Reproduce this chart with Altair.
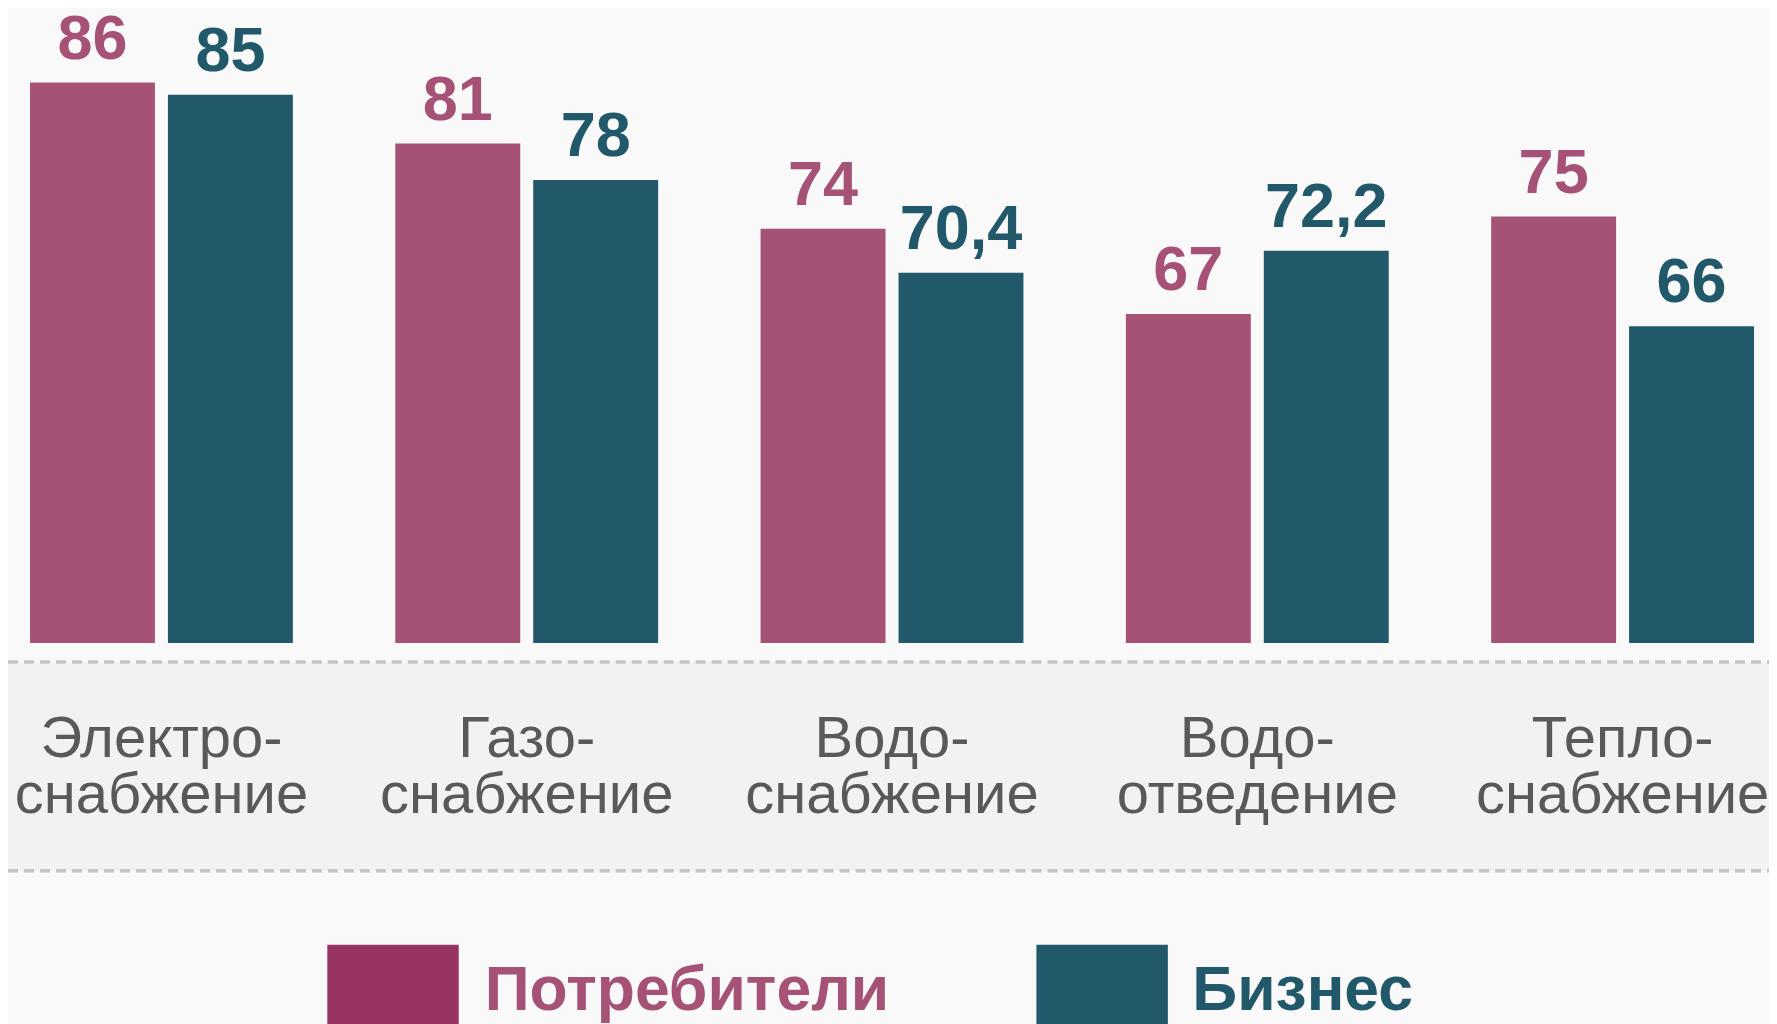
import altair as alt
import pandas as pd

# ---- data ----
categories = ["Электро-\nснабжение", "Газо-\nснабжение", "Водо-\nснабжение",
              "Водо-\nотведение", "Тепло-\nснабжение"]
series = ["Потребители", "Бизнес"]
consumers = [86, 81, 74, 67, 75]
business = [85, 78, 70.4, 72.2, 66]
baseline_value = 40

rows = []
for c, a, b in zip(categories, consumers, business):
    rows.append({"category": c, "series": series[0], "value": a})
    rows.append({"category": c, "series": series[1], "value": b})
df = pd.DataFrame(rows)
df["label"] = df["value"].map(lambda v: (f"{v:g}").replace(".", ","))

# ---- style ----
W, H = 1762, 1016
PX_PER_UNIT = 12.19
TOP_VALUE = 92.1
PINK, TEAL = "#a65277", "#22596a"
PINK_SW = "#983462"
FONT = "Liberation Sans"

xscale = alt.Scale(domain=categories, paddingInner=0.2804, paddingOuter=0.0506, align=0.595)
yscale = alt.Scale(domain=[TOP_VALUE - H / PX_PER_UNIT, TOP_VALUE], nice=False, zero=False)
cscale = alt.Scale(domain=series, range=[PINK, TEAL])
oscale = alt.Scale(domain=series, paddingInner=0.0942, paddingOuter=0)

one = alt.Data(values=[{"k": 1}])

band = alt.Chart(one).mark_rect(color="#f2f2f2").encode(
    x=alt.value(0), x2=alt.value(W), y=alt.value(654), y2=alt.value(863))

rules = [
    alt.Chart(one).mark_rule(color="#c4c4c4", strokeWidth=3.5, strokeDash=[10, 6]).encode(
        x=alt.value(0), x2=alt.value(W), y=alt.value(yy))
    for yy in (654, 863)
]

base = alt.Chart(df)

bars = base.mark_bar().encode(
    x=alt.X("category:N", sort=categories, scale=xscale, axis=None),
    xOffset=alt.XOffset("series:N", sort=series, scale=oscale),
    y=alt.Y("value:Q", scale=yscale, axis=None),
    y2=alt.datum(baseline_value),
    color=alt.Color("series:N", scale=cscale, legend=None),
)

values = base.mark_text(font=FONT, fontWeight="bold", fontSize=63,
                        baseline="alphabetic", align="center", dy=-24).encode(
    x=alt.X("category:N", sort=categories, scale=xscale, axis=None),
    xOffset=alt.XOffset("series:N", sort=series, scale=oscale),
    y=alt.Y("value:Q", scale=yscale, axis=None),
    text="label:N",
    color=alt.Color("series:N", scale=cscale, legend=None),
)

cat_df = pd.DataFrame({"category": categories})
cats = alt.Chart(cat_df).mark_text(font=FONT, fontSize=58, color="#595959",
                                   baseline="alphabetic", align="center",
                                   lineBreak="\n", lineHeight=56).encode(
    x=alt.X("category:N", sort=categories, scale=xscale, axis=None),
    y=alt.value(749),
    text="category:N",
)

# legend (manual)
leg_sw_x = [(319.5, 451), (1029, 1160.5)]
leg_tx_x = [477, 1185]
leg_sw_col = [PINK_SW, TEAL]
leg_tx_col = [PINK, TEAL]
legend_layers = []
for i, s in enumerate(series):
    d = alt.Data(values=[{"name": s}])
    legend_layers.append(
        alt.Chart(d).mark_rect(color=leg_sw_col[i]).encode(
            x=alt.value(leg_sw_x[i][0]), x2=alt.value(leg_sw_x[i][1]),
            y=alt.value(937), y2=alt.value(1060)))
    legend_layers.append(
        alt.Chart(d).mark_text(font=FONT, fontWeight="bold", fontSize=62.5,
                               color=leg_tx_col[i], align="left",
                               baseline="alphabetic").encode(
            x=alt.value(leg_tx_x[i]), y=alt.value(1002), text="name:N"))

chart = alt.layer(band, *rules, bars, values, cats, *legend_layers).properties(
    width=W, height=H,
    autosize=alt.AutoSizeParams(type="none"),
    padding=0,
    background="#f9f9f9",
).configure_view(stroke=None)

chart.save("out.html", embed_options={"renderer": "svg", "actions": False})
